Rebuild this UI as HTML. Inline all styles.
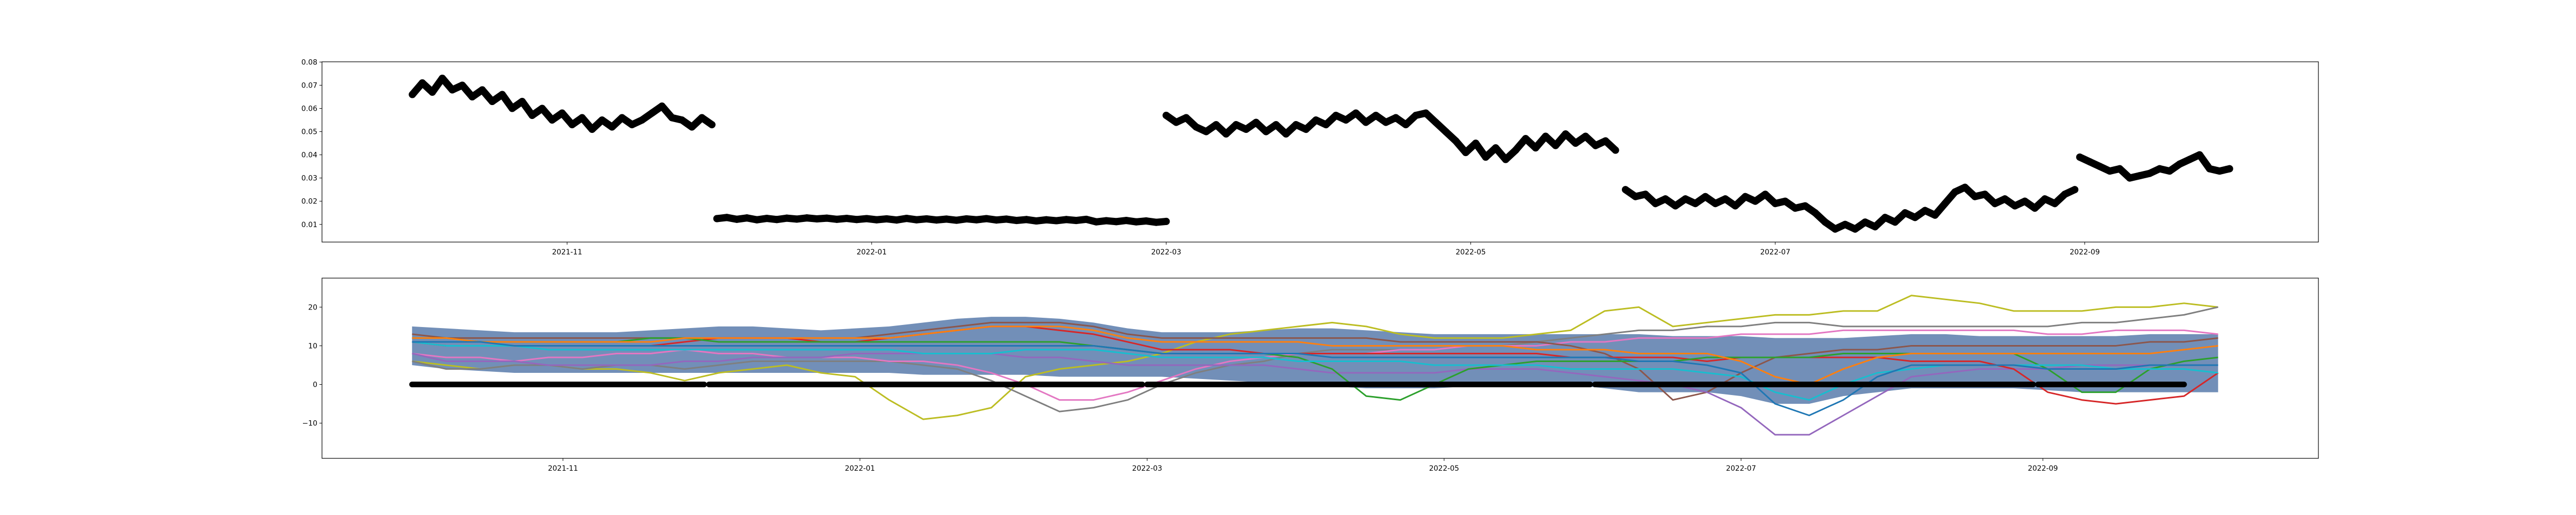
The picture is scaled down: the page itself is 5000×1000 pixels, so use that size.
<!DOCTYPE html>
<html><head><meta charset="utf-8"><style>
html,body{margin:0;padding:0;background:#fff;}
svg{display:block;font-family:"DejaVu Sans","Liberation Sans",sans-serif;}
</style></head><body>
<svg id="chart" width="5000" height="1000" viewBox="0 0 5000 1000" xmlns="http://www.w3.org/2000/svg">
<rect width="5000" height="1000" fill="#fff"/>
<g id="top"></g>
<g id="bot"></g>
</svg>
<script>
// ---- data (days relative to 2021-11-01) ----
const topSegStarts = [-31, 30, 120, 212, 303];
const topSegStep = 2;
const topSeg1 = [0.066,0.071,0.067,0.073,0.068,0.070,0.065,0.068,0.063,0.066,0.060,0.063,0.057,0.060,0.055,0.058,0.053,0.056,0.051,0.055,0.052,0.056,0.053,0.055,0.058,0.061,0.056,0.055,0.052,0.056,0.053];
const topSeg2 = [0.0125,0.013,0.0122,0.0128,0.012,0.0126,0.0121,0.0127,0.0123,0.0128,0.0124,0.0127,0.0122,0.0126,0.0121,0.0125,0.012,0.0124,0.0119,0.0126,0.012,0.0124,0.0119,0.0123,0.0118,0.0124,0.012,0.0125,0.0119,0.0123,0.0117,0.0121,0.0115,0.012,0.0116,0.0121,0.0117,0.0122,0.0111,0.0116,0.0112,0.0117,0.0111,0.0115,0.0109,0.0113];
const topSeg3 = [0.057,0.054,0.056,0.052,0.050,0.053,0.049,0.053,0.051,0.054,0.050,0.053,0.049,0.053,0.051,0.055,0.053,0.057,0.055,0.058,0.054,0.057,0.054,0.056,0.053,0.057,0.058,0.054,0.050,0.046,0.041,0.045,0.039,0.043,0.038,0.042,0.047,0.043,0.048,0.044,0.049,0.045,0.048,0.044,0.046,0.042];
const topSeg4 = [0.025,0.022,0.023,0.019,0.021,0.018,0.021,0.019,0.022,0.019,0.021,0.018,0.022,0.020,0.023,0.019,0.020,0.017,0.018,0.015,0.011,0.008,0.010,0.008,0.011,0.009,0.013,0.011,0.015,0.013,0.016,0.014,0.019,0.024,0.026,0.022,0.023,0.019,0.021,0.018,0.020,0.017,0.021,0.019,0.023,0.025];
const topSeg5 = [0.039,0.037,0.035,0.033,0.034,0.030,0.031,0.032,0.034,0.033,0.036,0.038,0.040,0.034,0.033,0.034];
const topYTicks = [0.01,0.02,0.03,0.04,0.05,0.06,0.07,0.08];
const xTickDays = [0, 61, 120, 181, 242, 304];
const xTickLabels = ["2021-11","2022-01","2022-03","2022-05","2022-07","2022-09"];

const botStartDay = -31, botStep = 7;
const bandHi = [15,14.5,14,13.5,13.5,13.5,13.5,14,14.5,15,15,14.5,14,14.5,15,16,17,17.5,17.5,17,16,14.5,13.5,13.5,13.5,14,14.5,14.5,14,13.5,13,13,13,13,13,13,13,12.5,12.5,12.5,12,12,12,12.5,13,13,12.5,12.5,12.5,12.5,12.5,13,13,13];
const bandLo = [5,4,3.5,3,3,3,3,3,3,3,3,3,3,3,3,2.5,2.5,2.5,2.5,2,2,2,2,1.5,1,0.5,0,-0.5,-1,-1,-1,-0.5,0,0,0,-1,-2,-2,-2,-3,-5,-5,-3,-2,-1,-1,-1,-1,-1.5,-2,-2,-2,-2,-2];
const sBlue   = [11,11,11,10,10,10,10,10,10,10,10,10,10,10,10,10,10,10,10,10,10,9,8,8,8,8,8,7,7,7,7,7,7,7,7,7,6,6,5,3,-5,-8,-4,2,5,5,5,5,4,4,4,5,5,5];
const sOrange = [12,12,11,11,11,11,11,11,12,12,12,12,12,12,12,13,14,15,15,15,14,12,11,11,11,11,11,10,10,10,10,10,10,9,9,9,8,8,8,6,2,0,4,7,8,8,8,8,8,8,8,8,9,10];
const sGreen  = [12,12,11,11,11,11,11,12,12,11,11,11,11,11,11,11,11,11,11,11,10,9,8,8,8,8,7,4,-3,-4,0,4,5,6,6,6,6,6,7,7,7,7,8,8,8,8,8,8,4,-2,-2,4,6,7];
const sRed    = [11,10,10,10,10,10,10,10,11,12,12,12,11,11,12,13,14,15,15,14,13,11,9,9,9,8,8,8,8,8,8,8,8,8,7,7,7,7,6,7,7,7,7,7,6,6,6,4,-2,-4,-5,-4,-3,3];
const sPurple = [8,6,6,6,5,5,5,5,6,6,7,7,7,8,8,8,8,8,7,7,6,5,5,5,5,5,4,3,3,3,3,4,4,4,3,2,1,0,-2,-6,-13,-13,-8,-3,2,3,4,4,4,5,5,5,5,5];
const sBrown  = [13,12,12,12,12,12,12,12,12,12,12,12,12,12,13,14,15,16,16,16,15,13,12,12,12,12,12,12,12,11,11,11,11,11,10,8,4,-4,-2,3,7,8,9,9,10,10,10,10,10,10,10,11,11,12];
const sPink   = [8,7,7,6,7,7,8,8,9,8,8,7,7,7,6,6,5,3,0,-4,-4,-2,1,4,6,7,8,8,8,9,9,10,10,10,11,11,12,12,12,13,13,13,14,14,14,14,14,14,13,13,14,14,14,13];
const sGray   = [6,4,4,5,5,4,5,5,4,5,6,6,6,6,6,5,4,1,-3,-7,-6,-4,0,3,5,6,8,9,9,9,9,10,10,11,12,13,14,14,15,15,16,16,15,15,15,15,15,15,15,16,16,17,18,20];
const sOlive  = [6,5,4,5,5,4,4,3,1,3,4,5,3,2,-4,-9,-8,-6,2,4,5,6,8,11,13,14,15,16,15,13,12,12,12,13,14,19,20,15,16,17,18,18,19,19,23,22,21,19,19,19,20,20,21,20];
const sCyan   = [11,10,10,10,9,9,9,9,9,9,9,9,9,9,9,8,8,8,9,9,9,8,7,7,7,7,6,6,6,6,5,5,5,5,4,4,4,4,3,2,-2,-4,0,3,4,5,5,5,5,5,4,4,4,3];
const zeroSegs = [[-31,29],[30,119],[120,211],[212,302],[303,333]];
const botYTicks = [-10,0,10,20];
const botYLabels = ["\u221210","0","10","20"];

const NS="http://www.w3.org/2000/svg";
function mk(tag, attrs, parent){const e=document.createElementNS(NS,tag);for(const k in attrs)e.setAttribute(k,attrs[k]);parent.appendChild(e);return e;}

const L=625,R=4500;
const topAx={t:120,b:470,d0:-49.1,d1:350.8,y0:0.0024,y1:0.0801};
const botAx={t:540,b:890,d0:-49.5,d1:360.6,y0:-19.1,y1:27.5};
function xs(ax,d){return L+(d-ax.d0)/(ax.d1-ax.d0)*(R-L);}
function ys(ax,v){return ax.b-(v-ax.y0)/(ax.y1-ax.y0)*(ax.b-ax.t);}

function axes(g,ax,yt,yl,pre){
  for(let i=0;i<xTickDays.length;i++){
    const x=xs(ax,xTickDays[i]);
    const tk=mk('line',{x1:x,x2:x,y1:ax.b,y2:ax.b+5,stroke:'#000','stroke-width':1},g);
    
    
    const t=mk('text',{x:x,y:ax.b+24,'font-size':14,'text-anchor':'middle',fill:'#000'},g);
    t.textContent=xTickLabels[i];
    
    
  }
  for(let i=0;i<yt.length;i++){
    const y=ys(ax,yt[i]);
    const tk=mk('line',{x1:L-5,x2:L,y1:y,y2:y,stroke:'#000','stroke-width':1},g);
    
    
    const t=mk('text',{x:L-9,y:y+5,'font-size':14,'text-anchor':'end',fill:'#000'},g);
    t.textContent=yl[i];
    
    
  }
  const f=mk('rect',{x:L,y:ax.t,width:R-L,height:ax.b-ax.t,fill:'none',stroke:'#000','stroke-width':1.2},g);
  
  
}

const gt=document.getElementById('top');
const segs=[topSeg1,topSeg2,topSeg3,topSeg4,topSeg5];
segs.forEach((arr,si)=>{
  const pts=arr.map((v,i)=>[xs(topAx,topSegStarts[si]+i*topSegStep),ys(topAx,v)]);
  const pl=mk('polyline',{points:pts.map(p=>p.join(',')).join(' '),fill:'none',stroke:'#000','stroke-width':14,'stroke-linejoin':'round','stroke-linecap':'round'},gt);
  
  
  pts.forEach(p=>{
    const c=mk('circle',{cx:p[0],cy:p[1],r:7,fill:'#000'},gt);
    
    
  });
});
axes(gt,topAx,topYTicks,topYTicks.map(v=>v.toFixed(2)),'top-');

const gb=document.getElementById('bot');
const bx=i=>xs(botAx,botStartDay+i*botStep);
let bp=bandHi.map((v,i)=>bx(i)+','+ys(botAx,v));
for(let i=bandLo.length-1;i>=0;i--)bp.push(bx(i)+','+ys(botAx,bandLo[i]));
const band=mk('polygon',{points:bp.join(' '),fill:'#4f73a6','fill-opacity':0.8},gb);


const series=[[sOlive,'#bcbd22','olive'],[sGray,'#7f7f7f','gray'],[sPink,'#e377c2','pink'],[sBrown,'#8c564b','brown'],[sPurple,'#9467bd','purple'],[sRed,'#d62728','red'],[sGreen,'#2ca02c','green'],[sOrange,'#ff7f0e','orange'],[sCyan,'#17becf','cyan'],[sBlue,'#1f77b4','blue']];
series.forEach(s=>{
  const pl=mk('polyline',{points:s[0].map((v,i)=>bx(i)+','+ys(botAx,v)).join(' '),fill:'none',stroke:s[1],'stroke-width':3,'stroke-linejoin':'round'},gb);
  
  
});
zeroSegs.forEach(z=>{
  const ln=mk('line',{x1:xs(botAx,z[0]),x2:xs(botAx,z[1]),y1:ys(botAx,0),y2:ys(botAx,0),stroke:'#000','stroke-width':11,'stroke-linecap':'round'},gb);
  
  
});
axes(gb,botAx,botYTicks,botYLabels,'bottom-');
</script>
</body></html>
